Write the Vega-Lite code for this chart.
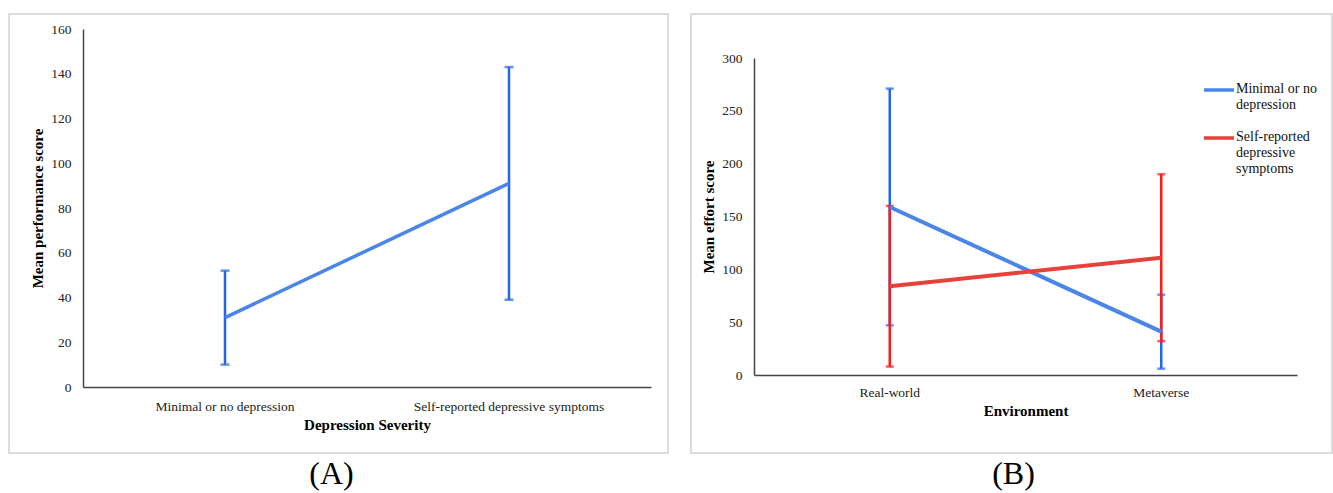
{
  "$schema": "https://vega.github.io/schema/vega-lite/v6.json",
  "padding": {"left": 8, "top": 13, "right": 0, "bottom": 0},
  "background": "white",
  "spacing": 21,
  "config": {
    "font": "Liberation Serif",
    "view": {"stroke": "#dcdcdc", "strokeWidth": 2},
    "axis": {
      "labelFont": "Liberation Serif", "labelFontSize": 13.5, "labelColor": "#222222",
      "titleFont": "Liberation Serif", "titleFontSize": 15, "titleFontWeight": "bold", "titleColor": "#000000",
      "domainColor": "#444444", "domainWidth": 1.5, "ticks": false, "grid": false
    },
    "title": {"font": "Liberation Serif", "fontSize": 32, "fontWeight": "normal", "color": "#000000", "orient": "bottom", "anchor": "middle", "offset": 6}
  },
  "hconcat": [
    {
      "width": 659, "height": 439,
      "title": {"text": "(A)", "dx": -7},
      "data": {"values": [
        {"sev": "Minimal or no depression", "mean": 31, "lo": 10, "hi": 52},
        {"sev": "Self-reported depressive symptoms", "mean": 91, "lo": 39, "hi": 143}
      ]},
      "encoding": {
        "x": {"field": "sev", "type": "nominal", "sort": null,
          "scale": {"range": [74, 642], "paddingInner": 0, "paddingOuter": 0},
          "axis": {"title": "Depression Severity", "labelAngle": 0, "offset": -66, "labelPadding": 12, "titlePadding": 5, "labelLimit": 300}}
      },
      "layer": [
        {
          "mark": {"type": "errorbar", "ticks": {"size": 9, "thickness": 2.5}, "thickness": 2.5, "color": "#2266e6"},
          "encoding": {
            "y": {"field": "lo", "type": "quantitative", "scale": {"domain": [0, 160], "range": [373, 15], "nice": false},
              "axis": {"title": "Mean performance score", "values": [0,20,40,60,80,100,120,140,160], "offset": -74, "labelPadding": 12, "titlePadding": 5}},
            "y2": {"field": "hi"}
          }
        },
        {
          "mark": {"type": "line", "color": "#4a86e8", "strokeWidth": 3.5},
          "encoding": {
            "y": {"field": "mean", "type": "quantitative",
              "axis": {"title": "Mean performance score", "values": [0,20,40,60,80,100,120,140,160], "offset": -74, "labelPadding": 12, "titlePadding": 5}}
          }
        }
      ]
    },
    {
      "width": 641, "height": 439,
      "title": {"text": "(B)", "dx": 2},
      "data": {"values": [
        {"env": "Real-world", "grp": "Minimal or no depression", "mean": 159, "lo": 47, "hi": 271},
        {"env": "Metaverse", "grp": "Minimal or no depression", "mean": 41, "lo": 6, "hi": 76},
        {"env": "Real-world", "grp": "Self-reported depressive symptoms", "mean": 84, "lo": 8, "hi": 160},
        {"env": "Metaverse", "grp": "Self-reported depressive symptoms", "mean": 111, "lo": 32, "hi": 190}
      ]},
      "encoding": {
        "x": {"field": "env", "type": "nominal", "sort": ["Real-world", "Metaverse"],
          "scale": {"range": [63, 606], "paddingInner": 0, "paddingOuter": 0},
          "axis": {"title": "Environment", "labelAngle": 0, "offset": -78, "labelPadding": 10, "titlePadding": 5}}
      },
      "layer": [
        {
          "transform": [{"filter": "datum.grp == 'Minimal or no depression'"}],
          "mark": {"type": "errorbar", "ticks": {"size": 8, "thickness": 2.5}, "thickness": 2.5, "color": "#2266e6"},
          "encoding": {
            "y": {"field": "lo", "type": "quantitative", "scale": {"domain": [0, 300], "range": [361, 44], "nice": false},
              "axis": {"title": "Mean effort score", "values": [0,50,100,150,200,250,300], "offset": -63, "labelPadding": 12, "titlePadding": 5}},
            "y2": {"field": "hi"}
          }
        },
        {
          "transform": [{"filter": "datum.grp == 'Self-reported depressive symptoms'"}],
          "mark": {"type": "errorbar", "ticks": {"size": 8, "thickness": 2.5}, "thickness": 2.5, "color": "#ff1a1a"},
          "encoding": {
            "y": {"field": "lo", "type": "quantitative",
              "axis": {"title": "Mean effort score", "values": [0,50,100,150,200,250,300], "offset": -63, "labelPadding": 12, "titlePadding": 5}},
            "y2": {"field": "hi"}
          }
        },
        {
          "mark": {"type": "line", "strokeWidth": 4},
          "encoding": {
            "y": {"field": "mean", "type": "quantitative",
              "axis": {"title": "Mean effort score", "values": [0,50,100,150,200,250,300], "offset": -63, "labelPadding": 12, "titlePadding": 5}},
            "color": {"field": "grp", "type": "nominal",
              "scale": {"domain": ["Minimal or no depression", "Self-reported depressive symptoms"], "range": ["#4a86e8", "#e8413a"]},
              "legend": {"title": null, "orient": "none", "legendX": 1193, "legendY": 59,
                "symbolType": "stroke", "symbolSize": 900, "symbolStrokeWidth": 3.5,
                "labelFont": "Liberation Serif", "labelFontSize": 14, "labelColor": "#111111",
                "labelOffset": 0, "labelBaseline": "top", "labelLimit": 200, "rowPadding": 9,
                "encode": {"labels": {"update": {"dy": {"value": -8}}}},
                "labelExpr": "datum.label == 'Minimal or no depression' ? ['Minimal or no', 'depression'] : ['Self-reported', 'depressive', 'symptoms']"}}
          }
        }
      ]
    }
  ]
}
